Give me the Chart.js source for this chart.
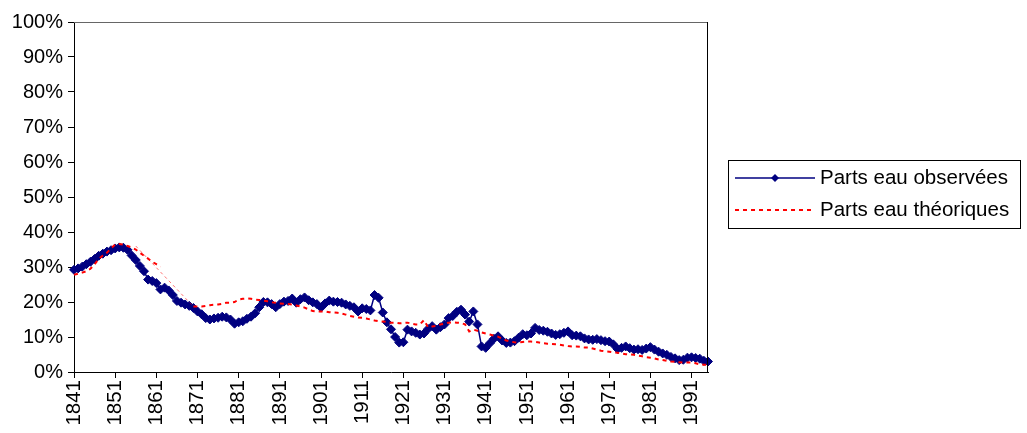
<!DOCTYPE html>
<html>
<head>
<meta charset="utf-8">
<script src="https://cdn.jsdelivr.net/npm/chart.js@4.4.1/dist/chart.umd.min.js"></script>
<style>
  body { margin: 0; background: #fff; }
  #wrap { width: 1027px; height: 433px; }
</style>
</head>
<body>
<div id="wrap"><canvas id="myChart" width="1027" height="433"></canvas></div>
<script>
// years on the category axis, one per year
const firstYear = 1841;
const lastYear = 1995;
const years = [];
for (let y = firstYear; y <= lastYear; y++) years.push(String(y));

// observed water share (%), 1841..1995
const partsObservees = [
    29.2, 29.6, 30.1, 30.8, 31.5, 32.3, 33.2, 33.8, 34.4, 34.8,
    35.3, 35.6, 35.5, 34.9, 33.3, 32.0, 30.3, 28.8, 26.4, 26.0,
    25.4, 23.6, 24.1, 23.3, 22.0, 20.3, 19.8, 19.3, 18.9, 18.3,
    17.3, 16.5, 15.4, 15.0, 15.3, 15.5, 15.8, 15.6, 15.0, 13.8,
    14.2, 14.5, 15.2, 15.8, 16.8, 18.5, 20.0, 19.9, 19.4, 18.5,
    19.4, 20.1, 20.3, 21.0, 19.8, 20.8, 21.3, 20.5, 19.9, 19.4,
    18.4, 19.6, 20.4, 20.1, 20.0, 19.8, 19.3, 18.9, 18.5, 17.3,
    18.2, 18.0, 17.6, 22.0, 21.2, 17.0, 14.2, 12.2, 10.0, 8.4,
    8.5, 12.1, 11.6, 11.2, 10.7, 11.0, 12.3, 13.1, 12.1, 12.8,
    13.6, 15.4, 16.0, 17.2, 17.8, 16.4, 14.4, 17.3, 13.6, 7.3,
    6.9, 8.2, 9.5, 10.2, 9.0, 8.3, 8.4, 8.8, 9.8, 10.8,
    10.5, 11.0, 12.6, 12.0, 11.8, 11.5, 11.0, 10.6, 10.8, 11.2,
    11.6, 10.5, 10.4, 10.2, 9.6, 9.3, 9.2, 9.4, 9.1, 8.8,
    8.7, 7.9, 6.6, 6.9, 7.3, 6.8, 6.4, 6.5, 6.3, 6.7,
    7.1, 6.4, 5.8, 5.3, 4.9, 4.3, 3.9, 3.4, 3.5, 4.1,
    4.2, 4.0, 3.8, 3.2, 3.0
];

// theoretical water share (%), gap 1863..1869
const partsTheoriques = [
    27.8, 28.1, 28.4, 28.8, 29.5, 30.8, 32.3, 33.3, 34.1, 35.3,
    36.4, 36.6, 36.4, 36.0, 35.6, 35.0, 34.1, 33.2, 32.4, 31.5,
    30.8, 30.1, null, null, null, null, null, null, null, 18.7,
    18.7, 18.7, 18.9, 19.1, 19.2, 19.3, 19.5, 19.8, 19.8, 20.0,
    20.7, 20.9, 21.0, 20.9, 20.7, 20.6, 20.4, 20.2, 19.9, 19.8,
    19.6, 19.5, 19.4, 19.3, 19.0, 18.7, 18.4, 17.9, 17.4, 17.3,
    17.3, 17.3, 17.1, 17.0, 16.9, 16.7, 16.4, 16.0, 15.8, 15.6,
    15.5, 15.3, 15.0, 14.7, 14.5, 14.4, 14.3, 14.1, 14.1, 13.9,
    14.0, 14.1, 13.8, 13.6, 13.6, 14.8, 12.8, 13.0, 13.2, 13.6,
    13.8, 14.1, 14.2, 14.1, 14.0, 13.6, 11.6, 12.1, 11.8, 11.3,
    11.0, 10.7, 10.4, 10.1, 9.5, 9.0, 8.7, 8.5, 8.4, 8.6,
    8.7, 8.7, 8.6, 8.4, 8.2, 8.1, 8.0, 7.9, 7.8, 7.6,
    7.4, 7.3, 7.3, 7.2, 7.0, 7.0, 6.7, 6.4, 6.1, 5.9,
    5.8, 5.6, 5.5, 5.3, 5.1, 5.0, 4.9, 4.7, 4.5, 4.2,
    4.1, 3.9, 3.6, 3.4, 3.2, 3.0, 2.9, 2.8, 2.7, 2.7,
    2.7, 2.5, 2.2, 2.1, 2.0
];

// faint straight stretch of the theoretical curve (1856 -> 1870)
const lienYears = ['1856', '1870'];
const lienValues = [36.0, 18.7];

const yTicks = [0, 10, 20, 30, 40, 50, 60, 70, 80, 90, 100];

const navy = '#000080';
const red = '#ff0000';
const font = 'Liberation Sans, Arial, sans-serif';

const connector = years.map(y => {
    const k = lienYears.indexOf(y);
    return k >= 0 ? lienValues[k] : null;
});

// plot frame + Excel-style legend box
const framePlugin = {
    id: 'frame',
    afterDraw(chart) {
        const ctx = chart.ctx;
        const a = chart.chartArea;
        ctx.save();
        ctx.lineWidth = 1;
        ctx.strokeStyle = '#666';
        ctx.beginPath();
        ctx.moveTo(a.left, a.top + 0.5);
        ctx.lineTo(a.right, a.top + 0.5);
        ctx.stroke();
        ctx.strokeStyle = '#000';
        ctx.beginPath();
        ctx.moveTo(a.right - 0.5, a.top);
        ctx.lineTo(a.right - 0.5, a.bottom);
        ctx.stroke();

        // legend
        const bx = 728.5, by = 160.5, bw = 292, bh = 68;
        ctx.strokeStyle = '#000';
        ctx.strokeRect(bx, by, bw, bh);

        const row1 = 178, row2 = 210;
        ctx.strokeStyle = navy;
        ctx.lineWidth = 1.5;
        ctx.beginPath();
        ctx.moveTo(735, row1);
        ctx.lineTo(815, row1);
        ctx.stroke();
        ctx.fillStyle = navy;
        ctx.beginPath();
        ctx.moveTo(775, row1 - 4);
        ctx.lineTo(779, row1);
        ctx.lineTo(775, row1 + 4);
        ctx.lineTo(771, row1);
        ctx.closePath();
        ctx.fill();

        ctx.strokeStyle = red;
        ctx.lineWidth = 2;
        ctx.setLineDash([4, 4]);
        ctx.beginPath();
        ctx.moveTo(735, row2);
        ctx.lineTo(815, row2);
        ctx.stroke();
        ctx.setLineDash([]);

        ctx.fillStyle = '#000';
        ctx.font = '20.5px ' + font;
        ctx.textBaseline = 'middle';
        ctx.textAlign = 'left';
        ctx.fillText('Parts eau observées', 820, row1);
        ctx.fillText('Parts eau théoriques', 820, row2);
        ctx.restore();
    }
};

const chart1 = document.getElementById('myChart');

new Chart(chart1, {
    type: 'line',
    data: {
        labels: years,
        datasets: [{
            label: 'Parts eau observées',
            data: partsObservees,
            borderColor: navy,
            backgroundColor: navy,
            borderWidth: 1.5,
            pointStyle: 'rectRot',
            pointRadius: 4.5,
            pointBorderWidth: 1,
            pointBackgroundColor: navy,
            pointBorderColor: navy,
            tension: 0,
            order: 1
        }, {
            label: 'Parts eau théoriques',
            data: partsTheoriques,
            borderColor: red,
            borderWidth: 2,
            borderDash: [4, 4],
            pointRadius: 0,
            spanGaps: false,
            tension: 0,
            order: 0
        }, {
            label: 'lien',
            data: connector,
            borderColor: 'rgba(255, 0, 0, 0.55)',
            borderWidth: 1,
            borderDash: [3, 3],
            pointRadius: 0,
            spanGaps: true,
            tension: 0,
            order: 0
        }]
    },
    options: {
        responsive: false,
        animation: false,
        devicePixelRatio: 1,
        layout: {
            padding: { top: 22, right: 319, bottom: 0, left: 0 }
        },
        plugins: {
            legend: { display: false },
            tooltip: { enabled: false }
        },
        scales: {
            x: {
                type: 'category',
                offset: false,
                afterFit: (s) => { s.height = 61; },
                border: { display: true, color: '#000', width: 1 },
                grid: {
                    drawOnChartArea: false,
                    drawTicks: true,
                    tickLength: 6,
                    color: '#000'
                },
                ticks: {
                    autoSkip: false,
                    minRotation: 90,
                    maxRotation: 90,
                    padding: 2,
                    color: '#000',
                    font: { family: font, size: 20.5 },
                    callback: function(value, index) {
                        const y = Number(years[index]);
                        if ((y - firstYear) % 10 === 0) {
                            return years[index];
                        }
                        return null;
                    }
                }
            },
            y: {
                min: 0,
                max: 100,
                afterFit: (s) => { s.width = 74; },
                afterBuildTicks: (s) => { s.ticks = yTicks.map(v => ({ value: v })); },
                border: { display: true, color: '#000', width: 1 },
                grid: {
                    drawOnChartArea: false,
                    drawTicks: true,
                    tickLength: 6,
                    color: '#000'
                },
                ticks: {
                    padding: 5,
                    color: '#000',
                    font: { family: font, size: 20 },
                    callback: function(value) {
                        return value + '%';
                    }
                }
            }
        }
    },
    plugins: [framePlugin]
});
</script>
</body>
</html>
